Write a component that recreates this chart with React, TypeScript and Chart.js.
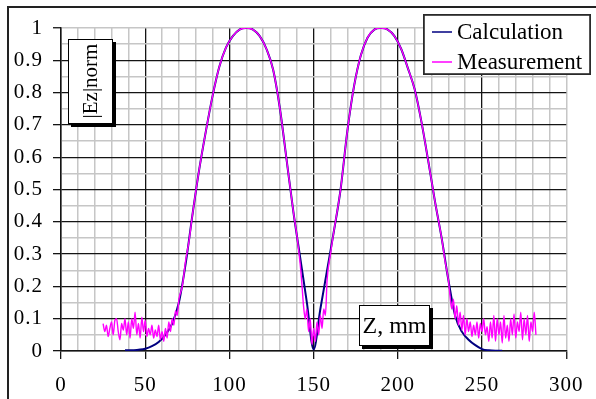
import { useEffect, useRef } from "react";
import { Chart, registerables } from "chart.js";

Chart.register(...registerables);

// ---- data ----
const seriesNames = ["Calculation", "Measurement"];
const seriesColors = ["#000080", "#ff00ff"];
const xTitle = "Z, mm";
const yTitle = "|Ez|norm";
const xTickLabels = [0, 50, 100, 150, 200, 250, 300];
const yTickLabels = [0, 0.1, 0.2, 0.3, 0.4, 0.5, 0.6, 0.7, 0.8, 0.9, 1];

const calcZ = [
  38, 42, 46, 50, 54, 58, 62, 66, 70, 74,
  78, 82, 86, 90, 94, 98, 102, 106, 110, 114,
  118, 122, 126, 130, 134, 138, 142, 146, 150, 154,
  158, 162, 166, 170, 174, 178, 182, 186, 190, 194,
  198, 202, 206, 210, 214, 218, 222, 226, 230, 234,
  238, 242, 246, 250, 254, 258, 262,
];
const calcEz = [
  0.002, 0.002, 0.004, 0.007, 0.015, 0.028, 0.05, 0.085, 0.15, 0.27,
  0.42, 0.56, 0.68, 0.79, 0.88, 0.94, 0.975, 0.995, 1.0, 0.995,
  0.975, 0.935, 0.87, 0.75, 0.59, 0.43, 0.29, 0.15, 0.005, 0.13,
  0.25, 0.37, 0.5, 0.68, 0.82, 0.915, 0.97, 0.995, 1.0, 0.995,
  0.975, 0.935, 0.875, 0.81, 0.71, 0.59, 0.465, 0.35, 0.22, 0.11,
  0.06, 0.035, 0.018, 0.006, 0.002, 0.001, 0.001,
];

const measZ = [
  25, 26, 27, 28, 29, 30, 31, 32, 33, 34,
  35, 36, 37, 38, 39, 40, 41, 42, 43, 44,
  45, 46, 47, 48, 49, 50, 51, 52, 53, 54,
  55, 56, 57, 58, 59, 60, 61, 62, 63, 64,
  65, 66, 67, 68, 69, 70, 72, 74, 76, 78,
  82, 86, 90, 94, 98, 102, 106, 110, 114, 118,
  122, 126, 130, 134, 138, 140, 142, 143, 144, 145,
  146, 147, 148, 149, 150, 151, 152, 153, 154, 155,
  156, 157, 158, 160, 162, 166, 170, 174, 178, 182,
  186, 190, 194, 198, 202, 206, 210, 214, 218, 222,
  226, 228, 230, 231, 232, 233, 234, 235, 236, 237,
  238, 239, 240, 241, 242, 243, 244, 245, 246, 247,
  248, 249, 250, 251, 252, 253, 254, 255, 256, 257,
  258, 259, 260, 261, 262, 263, 264, 265, 266, 267,
  268, 269, 270, 271, 272, 273, 274, 275, 276, 277,
  278, 279, 280, 281, 282,
];
const measEz = [
  0.085, 0.06, 0.08, 0.045, 0.07, 0.09, 0.05, 0.095, 0.1, 0.06,
  0.035, 0.085, 0.065, 0.1, 0.05, 0.09, 0.04, 0.1, 0.07, 0.12,
  0.05, 0.085, 0.04, 0.105, 0.06, 0.095, 0.045, 0.07, 0.05, 0.08,
  0.04, 0.065, 0.045, 0.08, 0.035, 0.06, 0.03, 0.07, 0.04, 0.09,
  0.06, 0.1, 0.08, 0.125, 0.11, 0.16, 0.2, 0.28, 0.34, 0.42,
  0.56, 0.68, 0.79, 0.88, 0.94, 0.975, 0.995, 1.0, 0.995, 0.975,
  0.935, 0.87, 0.75, 0.59, 0.43, 0.36, 0.27, 0.21, 0.14, 0.1,
  0.13, 0.06, 0.1, 0.02, 0.07, 0.03, 0.09, 0.05, 0.11, 0.07,
  0.13, 0.11, 0.22, 0.3, 0.37, 0.5, 0.68, 0.82, 0.915, 0.97,
  0.995, 1.0, 0.995, 0.975, 0.935, 0.875, 0.81, 0.71, 0.59, 0.465,
  0.35, 0.28, 0.22, 0.17, 0.13, 0.16, 0.1, 0.14, 0.08, 0.12,
  0.065, 0.11, 0.05, 0.1, 0.06, 0.09, 0.045, 0.08, 0.05, 0.09,
  0.04, 0.085, 0.06, 0.1, 0.05, 0.075, 0.03, 0.09, 0.04, 0.11,
  0.03, 0.1, 0.05, 0.09, 0.025, 0.11, 0.04, 0.08, 0.03, 0.1,
  0.05, 0.115, 0.04, 0.09, 0.06, 0.12, 0.035, 0.1, 0.05, 0.11,
  0.03, 0.09, 0.06, 0.12, 0.05,
];

const SERIF = "'Liberation Serif', 'DejaVu Serif', Times, serif";
const MAJOR = "#141414";
const MINOR = "#c6c6c6";

const isYMajor = (v: number) => yTickLabels.some((t) => Math.abs(t - v) < 1e-9);

const overlayPlugin = {
  id: "overlay",
  beforeDraw(chart: any) {
    chart.ctx.letterSpacing = "1px";
  },
  afterDraw(chart: any) {
    const ctx: CanvasRenderingContext2D = chart.ctx;
    ctx.save();
    (ctx as any).letterSpacing = "0px";
    // outer frame (left + top)
    ctx.strokeStyle = "#222";
    ctx.lineWidth = 2;
    ctx.beginPath();
    ctx.moveTo(8, 399);
    ctx.lineTo(8, 7);
    ctx.lineTo(596, 7);
    ctx.stroke();

    const box = (x: number, y: number, w: number, h: number, shadow: boolean, lw: number, col: string) => {
      if (shadow) {
        ctx.fillStyle = "#000";
        ctx.fillRect(x + 3, y + 3, w, h);
      }
      ctx.fillStyle = "#fff";
      ctx.fillRect(x, y, w, h);
      ctx.strokeStyle = col;
      ctx.lineWidth = lw;
      ctx.strokeRect(x + lw / 2, y + lw / 2, w - lw, h - lw);
    };

    // y title box
    box(68, 39, 45, 85, true, 1, "#000");
    ctx.save();
    ctx.translate(90.5, 81);
    ctx.rotate(-Math.PI / 2);
    ctx.font = `21px ${SERIF}`;
    ctx.fillStyle = "#000";
    ctx.textAlign = "center";
    ctx.textBaseline = "middle";
    ctx.fillText(yTitle, 0, 1);
    ctx.restore();

    // x title box
    box(359, 305, 71, 41, true, 1, "#000");
    ctx.font = `24px ${SERIF}`;
    ctx.fillStyle = "#000";
    ctx.textAlign = "center";
    ctx.textBaseline = "middle";
    ctx.fillText(xTitle, 394.5, 327);

    // legend
    box(423, 14, 168, 61, false, 1.8, "#2a2a2a");
    ctx.textAlign = "left";
    ctx.font = `23px ${SERIF}`;
    const rows = [32, 62];
    seriesNames.forEach((name, i) => {
      ctx.strokeStyle = seriesColors[i];
      ctx.lineWidth = 1.5;
      ctx.beginPath();
      ctx.moveTo(432, rows[i]);
      ctx.lineTo(452, rows[i]);
      ctx.stroke();
      ctx.fillStyle = "#000";
      ctx.fillText(name, 457, rows[i] + 1);
    });
    ctx.restore();
  },
};

export default function App() {
  const ref = useRef<HTMLCanvasElement | null>(null);

  useEffect(() => {
    if (!ref.current) return;
    const calcData = calcZ.map((z, i) => ({ x: z, y: calcEz[i] }));
    const measData = measZ.map((z, i) => ({ x: z, y: measEz[i] }));
    const chart = new Chart(ref.current, {
      type: "line",
      data: {
        datasets: [
          {
            label: seriesNames[0],
            data: calcData,
            borderColor: seriesColors[0],
            borderWidth: 2,
            pointRadius: 0,
            cubicInterpolationMode: "monotone",
            order: 2,
          },
          {
            label: seriesNames[1],
            data: measData,
            borderColor: seriesColors[1],
            borderWidth: 1.4,
            pointRadius: 0,
            cubicInterpolationMode: "monotone",
            order: 1,
          },
        ],
      },
      options: {
        responsive: false,
        animation: false,
        devicePixelRatio: 1,
        layout: { padding: { top: 28, right: 21, left: 0, bottom: 0 } },
        plugins: { legend: { display: false }, tooltip: { enabled: false } },
        scales: {
          x: {
            type: "linear",
            min: 0,
            max: 300,
            afterFit: (s: any) => {
              s.height = 48;
            },
            ticks: {
              stepSize: 10,
              autoSkip: false,
              maxRotation: 0,
              padding: 14,
              color: "#000",
              font: { family: SERIF, size: 21 },
              callback: (v: any) => (xTickLabels.includes(Number(v)) ? String(v) : ""),
            },
            grid: {
              color: (c: any) => {
                const v = c.tick?.value;
                return v % 50 === 0 && v !== 300 ? MAJOR : MINOR;
              },
              lineWidth: (c: any) => (c.tick?.value % 50 === 0 && c.tick?.value !== 300 ? 1.3 : 1.5),
              tickColor: (c: any) => (c.tick?.value % 50 === 0 ? MAJOR : "rgba(0,0,0,0)"),
              tickLength: 8,
              tickWidth: 1.3,
            },
            border: { display: true, color: MAJOR, width: 1.5 },
          },
          y: {
            type: "linear",
            min: 0,
            max: 1,
            afterFit: (s: any) => {
              s.width = 61;
            },
            ticks: {
              stepSize: 0.05,
              autoSkip: false,
              padding: 10,
              color: "#000",
              font: { family: SERIF, size: 21 },
              callback: (v: any) => {
                const t = yTickLabels.find((q) => Math.abs(q - Number(v)) < 1e-9);
                return t === undefined ? "" : String(t);
              },
            },
            grid: {
              color: (c: any) => {
                const v = c.tick?.value;
                return isYMajor(v) && Math.abs(v - 1) > 1e-9 ? MAJOR : MINOR;
              },
              lineWidth: (c: any) => (isYMajor(c.tick?.value) && Math.abs(c.tick?.value - 1) > 1e-9 ? 1.3 : 1.5),
              tickColor: (c: any) => (isYMajor(c.tick?.value) ? MAJOR : "rgba(0,0,0,0)"),
              tickLength: 8,
              tickWidth: 1.3,
            },
            border: { display: true, color: MAJOR, width: 1.5 },
          },
        },
      },
      plugins: [overlayPlugin],
    });
    return () => chart.destroy();
  }, []);

  return (
    <div style={{ position: "fixed", left: 0, top: 0, width: 596, height: 399, background: "#fff" }}>
      <canvas ref={ref} width={596} height={399} style={{ display: "block", width: 596, height: 399 }} />
    </div>
  );
}
